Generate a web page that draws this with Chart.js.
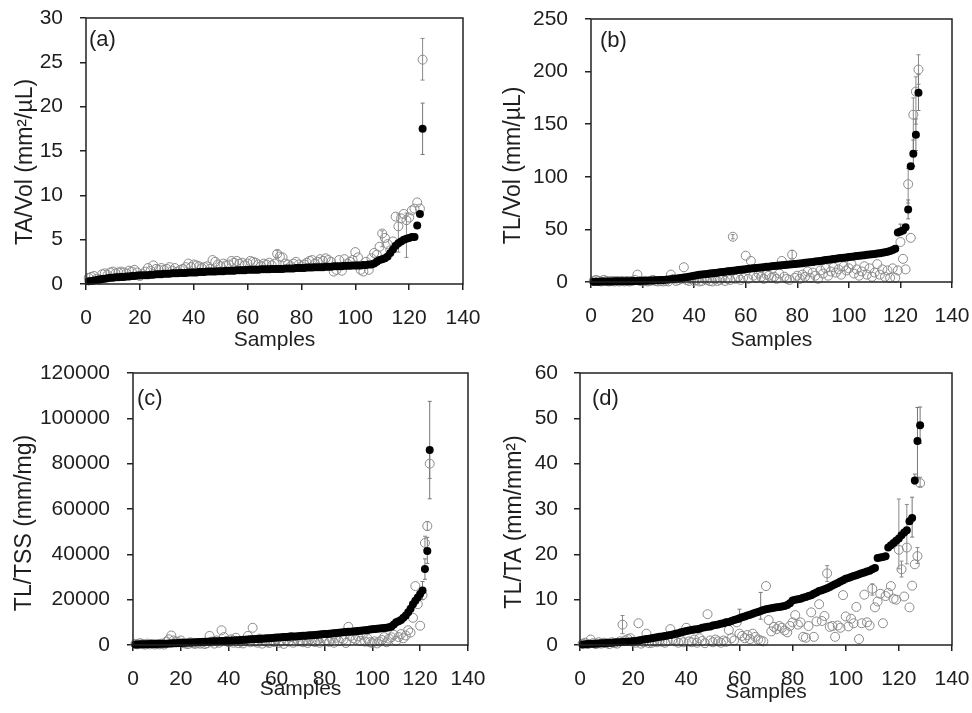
<!DOCTYPE html>
<html><head><meta charset="utf-8">
<script src="https://cdn.jsdelivr.net/npm/chart.js@4"></script>
<style>
html,body{margin:0;padding:0;background:#fff;}
#wrap{position:relative;width:972px;height:713px;overflow:hidden;}
canvas{position:absolute;}
</style></head><body>
<div id="wrap">
<canvas id="ca" width="486" height="356" style="left:0;top:0"></canvas>
<canvas id="cb" width="486" height="356" style="left:486px;top:0"></canvas>
<canvas id="cc" width="486" height="357" style="left:0;top:356px"></canvas>
<canvas id="cd" width="486" height="357" style="left:486px;top:356px"></canvas>
</div>
<script>
const xTicks = [0,20,40,60,80,100,120,140];
const panelLabels = ['(a)','(b)','(c)','(d)'];
const yTitles = ['TA/Vol (mm²/µL)','TL/Vol (mm/µL)','TL/TSS (mm/mg)','TL/TA (mm/mm²)'];
const xTitle = 'Samples';
const yMax = [30,250,120000,60];
const yStep = [5,50,20000,10];

// (a) TA/Vol
const aBlack = [
0.30,0.35,0.40,0.45,0.50,0.55,0.60,0.65,0.70,0.70,
0.75,0.75,0.80,0.80,0.85,0.85,0.90,0.90,0.95,0.95,
1.00,1.00,1.00,1.05,1.05,1.10,1.10,1.10,1.15,1.15,
1.15,1.20,1.20,1.20,1.25,1.25,1.25,1.30,1.30,1.30,
1.30,1.35,1.35,1.35,1.40,1.40,1.40,1.40,1.45,1.45,
1.45,1.50,1.50,1.50,1.50,1.55,1.55,1.55,1.55,1.60,
1.60,1.60,1.60,1.60,1.65,1.65,1.65,1.65,1.70,1.70,
1.70,1.70,1.70,1.75,1.75,1.75,1.75,1.80,1.80,1.80,
1.80,1.85,1.85,1.85,1.90,1.90,1.90,1.90,1.95,1.95,
1.95,2.00,2.00,2.00,2.00,2.05,2.05,2.05,2.10,2.10,
2.10,2.10,2.15,2.15,2.20,2.20,2.30,2.50,2.70,2.80,
2.90,3.10,3.50,3.90,4.30,4.60,4.80,5.00,5.10,5.20,
5.30,5.30,6.60,7.90,17.50];
const aOpen = [
0.7,0.8,0.9,0.6,0.5,1.1,1.2,1.0,1.3,1.4,
1.2,1.3,1.4,1.3,1.2,1.5,1.4,1.6,1.3,0.9,
1.1,1.4,1.8,1.5,2.1,1.7,1.6,1.8,1.6,1.7,
1.9,1.5,1.8,1.4,1.6,1.7,1.9,2.3,1.9,2.2,
2.1,2.0,1.8,1.9,2.0,1.7,2.7,2.5,2.2,2.0,
2.3,2.1,2.2,2.6,2.4,2.6,2.3,2.4,2.1,2.3,
2.6,2.5,2.4,2.2,2.0,2.3,2.2,2.4,2.1,2.3,
3.4,3.1,3.0,2.3,2.2,2.0,2.3,2.5,2.2,2.0,
2.2,2.4,2.6,2.7,2.3,2.5,2.8,2.6,2.9,2.7,
2.5,1.4,1.6,2.7,1.5,2.8,2.3,2.5,2.7,3.6,
3.0,1.6,1.4,2.5,1.6,2.9,3.5,3.3,4.2,5.7,
5.2,4.5,3.8,4.8,7.6,6.5,7.4,7.9,7.2,7.5,
8.3,8.5,9.2,8.5,25.3];
const aBlackErr = [[125,14.6,20.4]];
const aOpenErr = [[125,23.0,27.7],[116,3.6,7.9],[119,3.0,8.0],[110,4.2,6.0],[71,3.0,3.8]];

// (b) TL/Vol
const bBlack = [
0.2,0.3,0.3,0.4,0.4,0.5,0.5,0.5,0.6,0.6,
0.6,0.7,0.7,0.8,0.8,0.9,0.9,1.0,1.0,1.1,
1.2,1.3,1.4,1.5,1.6,1.7,1.9,2.0,2.2,2.4,
2.6,2.9,3.2,3.5,3.8,4.2,4.6,5.0,5.5,6.0,
6.4,6.8,7.1,7.4,7.7,8.0,8.3,8.6,8.9,9.2,
9.5,9.8,10.1,10.4,10.7,11.0,11.3,11.6,11.9,12.2,
12.5,12.8,13.1,13.3,13.6,13.9,14.1,14.4,14.6,14.9,
15.1,15.4,15.6,15.9,16.1,16.4,16.6,16.9,17.1,17.4,
17.6,17.9,18.2,18.5,18.8,19.1,19.4,19.7,20.0,20.4,
20.8,21.2,21.5,21.9,22.2,22.5,22.8,23.1,23.4,23.7,
24.0,24.3,24.6,24.9,25.2,25.5,25.8,26.1,26.4,26.7,
27.0,27.4,27.8,28.3,28.8,29.5,30.5,31.5,47,48,
49,52,69,110,122,140,180];
const bOpen = [
1,2,1,0.5,2,1,0.5,1,0.5,1,
0.5,1,0.5,1,0.5,1,2,7,1,0.5,
1,0.5,1,2,1,0.5,1,0.5,1,0.5,
7,3,1,2,3,14,2,1,3,1,
2,0.5,1,3,2,1,0.5,3,1,2,
4,1,3,2,43,3,5,2,4,25,
3,20,6,4,8,5,3,7,6,4,
5,3,8,20,5,3,2,26,4,6,
3,7,5,10,4,9,6,3,11,8,
13,6,10,14,9,12,7,15,11,13,
17,8,12,6,10,15,7,13,5,9,
17,7,12,5,11,4,13,4,11,38,
22,12,93,42,159,181,202];
const bBlackErr = [[127,163,197],[126,125,155],[125,110,135],[123,60,78],[120,45,55]];
const bOpenErr = [[127,188,216],[126,150,195],[125,125,175],[123,75,108],[78,22,30],[55,41,45]];

// (c) TL/TSS
const cBlack = [
200,250,300,300,350,350,400,400,450,450,
500,500,550,600,650,700,750,800,850,900,
950,1000,1050,1100,1150,1200,1250,1300,1350,1400,
1450,1500,1550,1600,1650,1700,1750,1800,1850,1900,
1950,2000,2100,2150,2200,2300,2350,2400,2500,2550,
2600,2700,2750,2800,2900,2950,3000,3100,3200,3300,
3350,3400,3500,3550,3600,3700,3750,3800,3900,4000,
4050,4100,4200,4250,4350,4400,4500,4600,4700,4800,
4900,5000,5100,5200,5300,5400,5500,5600,5700,5800,
5900,6000,6100,6200,6300,6400,6500,6600,6800,7000,
7100,7200,7300,7400,7500,7600,7800,8200,9000,10000,
10500,11000,12000,13000,14500,16000,18000,19500,21000,22500,
24000,33500,41500,86000];
const cOpen = [
500,300,800,400,200,600,300,500,200,400,
300,600,200,1500,2500,4200,2000,1500,1200,2000,
800,600,400,1200,700,500,900,600,1000,400,
800,4000,1500,600,2000,1000,6500,3500,1800,1200,
2500,1000,3200,800,1500,700,1800,4000,1200,7600,
1500,1000,2800,600,1800,1200,900,2000,1300,2500,
1000,1800,500,2200,1500,3500,1000,2800,1600,2000,
1200,2400,900,2600,1800,1300,2200,1000,3000,1600,
2000,1400,2800,1000,3200,1800,3000,2400,900,8000,
4000,3000,2500,3800,1800,4500,1500,2800,1200,900,
1600,700,1500,2200,3500,1200,2800,3400,4500,1800,
3500,4800,3000,4200,6500,5500,12000,26000,18000,8500,
22000,45000,52500,80000];
const cBlackErr = [[124,64500,107500],[123,36000,47500],[122,29000,38000],[121,20000,28000]];
const cOpenErr = [[124,73500,86500],[123,50500,54500],[122,42000,48000]];

// (d) TL/TA
const dBlack = [
0.1,0.15,0.2,0.25,0.3,0.3,0.35,0.4,0.4,0.45,
0.5,0.5,0.55,0.6,0.6,0.65,0.7,0.7,0.75,0.8,
0.9,1.0,1.1,1.2,1.3,1.4,1.5,1.6,1.7,1.8,
1.9,2.0,2.1,2.2,2.3,2.5,2.6,2.8,2.9,3.1,
3.2,3.3,3.4,3.5,3.6,3.8,3.9,4.0,4.1,4.3,
4.4,4.5,4.7,4.8,5.0,5.1,5.3,5.5,5.7,5.9,
6.1,6.3,6.5,6.7,6.9,7.1,7.3,7.5,7.7,7.9,
8.0,8.1,8.2,8.3,8.4,8.5,8.6,8.8,9.2,9.8,
10.0,10.1,10.2,10.4,10.6,10.8,11.0,11.3,11.6,11.9,
12.1,12.3,12.5,12.8,13.1,13.4,13.7,14.0,14.3,14.6,
14.8,15.0,15.2,15.4,15.6,15.8,16.0,16.2,16.4,16.7,
17.0,19.2,19.3,19.4,19.6,21.5,22.0,22.5,23.0,23.5,
24.2,24.8,25.3,27.3,28.0,36.3,45.0,48.5];
const dOpen = [
0.3,0.5,0.2,1.2,0.4,0.2,0.6,0.3,0.5,0.4,
0.2,0.6,0.4,0.3,0.8,4.5,1.0,1.3,1.5,0.7,
0.5,4.8,0.3,0.6,2.5,0.4,0.5,0.8,0.6,1.0,
0.7,0.5,0.9,3.5,1.2,0.8,0.5,1.0,0.6,3.8,
0.8,0.6,1.2,0.5,1.5,0.9,0.4,6.8,1.0,0.6,
1.2,0.8,0.5,1.0,0.7,3.3,1.5,1.0,5.0,2.5,
2.0,1.5,2.2,1.3,2.5,1.8,1.2,1.0,0.8,13.0,
5.5,3.0,4.0,3.5,4.2,3.8,3.2,2.8,4.2,5.0,
6.6,4.5,5.0,1.8,1.6,4.2,7.2,1.8,5.2,9.0,
5.3,6.4,15.8,4.0,4.2,1.8,4.3,3.8,11.0,6.3,
4.1,5.8,4.8,8.4,1.3,4.8,11.1,5.0,4.3,12.4,
8.3,9.6,11.3,4.8,10.8,11.5,13.0,10.2,10.0,21.0,
16.7,10.7,21.5,8.3,13.1,17.8,19.6,35.7];
const dBlackErr = [[128,44.5,52.5],[127,37,52.4],[126,35.5,37.7],[125,23.8,32.6],[68,5.7,11.6],[60,5.0,7.9]];
const dOpenErr = [[128,35,37],[127,18,21.5],[123,17.9,31],[120,16.8,32.2],[121,15,18.5],[93,14,17.5],[16,2.5,6.5],[110,11,13.5]];

const FONT = "'Liberation Sans', Arial, sans-serif";
const TXT = '#1e1e1e';

function errPlugin(sets){
  return {
    id:'errbars',
    beforeDatasetsDraw(chart){
      const xs = chart.scales.x, ys = chart.scales.y, ctx = chart.ctx;
      ctx.save();
      ctx.lineWidth = 1;
      sets.forEach(set => {
        ctx.strokeStyle = set.color;
        set.list.forEach(([s, lo, hi]) => {
          const px = xs.getPixelForValue(s);
          const y1 = ys.getPixelForValue(lo), y2 = ys.getPixelForValue(hi);
          ctx.beginPath();
          ctx.moveTo(px, y1); ctx.lineTo(px, y2);
          ctx.moveTo(px-2, y1); ctx.lineTo(px+2, y1);
          ctx.moveTo(px-2, y2); ctx.lineTo(px+2, y2);
          ctx.stroke();
        });
      });
      ctx.restore();
    }
  };
}
function framePlugin(label, yTitle, g){
  return {
    id:'frame',
    afterDatasetsDraw(chart){
      const a = chart.chartArea, ctx = chart.ctx;
      ctx.save();
      ctx.strokeStyle = '#222';
      ctx.lineWidth = 1.5;
      ctx.strokeRect(a.left, a.top, a.right - a.left, a.bottom - a.top);
      ctx.fillStyle = TXT;
      ctx.font = '22px ' + FONT;
      ctx.textBaseline = 'middle';
      ctx.textAlign = 'left';
      ctx.fillText(label, a.left + g.lx, a.top + g.ly);
      // y axis title
      ctx.font = '23px ' + FONT;
      ctx.textAlign = 'center';
      ctx.translate(g.tx, (a.top + a.bottom) / 2 + g.ty);
      ctx.rotate(-Math.PI / 2);
      ctx.fillText(yTitle, 0, 0);
      ctx.restore();
    }
  };
}

function panel(id, i, black, open, blackErr, openErr, geo){
  const toPts = arr => arr.map((v, k) => ({x: k + 1, y: v}));
  return new Chart(document.getElementById(id), {
    type: 'scatter',
    data: {datasets: [
      {data: toPts(black), pointRadius: 4, pointBackgroundColor: '#000', pointBorderColor: '#000', pointBorderWidth: 0, order: 0, clip: false},
      {data: toPts(open), pointRadius: 4.5, pointBackgroundColor: 'rgba(0,0,0,0)', pointBorderColor: '#8a8a8a', pointBorderWidth: 1, order: 1, clip: false}
    ]},
    options: {
      responsive: false, animation: false, devicePixelRatio: 1,
      layout: {padding: {left: 0, right: geo.pr, top: geo.pt, bottom: 0}},
      plugins: {legend: {display: false}, tooltip: {enabled: false}},
      scales: {
        x: {
          type: 'linear', min: 0, max: 140,
          afterBuildTicks: s => { s.ticks = xTicks.map(v => ({value: v})); },
          ticks: {color: TXT, font: {size: 21, family: FONT}, padding: geo.xp, maxRotation: 0, autoSkip: false},
          grid: {drawOnChartArea: false, drawTicks: true, tickLength: 6, color: '#222', lineWidth: 1.5},
          border: {display: false},
          title: {display: true, text: xTitle, color: TXT, font: {size: 21, family: FONT}, padding: {top: 0, bottom: geo.xtb}},
          afterFit: s => { s.height = geo.xh; s.paddingLeft = 0; s.paddingRight = 0; }
        },
        y: {
          type: 'linear', min: 0, max: yMax[i],
          ticks: {stepSize: yStep[i], color: TXT, font: {size: 21, family: FONT}, padding: geo.yp, autoSkip: false, callback: v => String(v)},
          grid: {drawOnChartArea: false, drawTicks: true, tickLength: 6, color: '#222', lineWidth: 1.5},
          border: {display: false},
          title: {display: false},
          afterFit: s => { s.width = geo.yw; s.paddingTop = 0; s.paddingBottom = 0; }
        }
      }
    },
    plugins: [
      errPlugin([{color: '#8a8a8a', list: openErr}, {color: '#777', list: blackErr}]),
      framePlugin(panelLabels[i], yTitles[i], geo)
    ]
  });
}

panel('ca', 0, aBlack, aOpen, aBlackErr, aOpenErr, {pr: 23, pt: 18, yw: 86, xh: 72, xtb: 3, xp: 16, yp: 17, lx: 3, ly: 22, tx: 26, ty: 11});
panel('cb', 1, bBlack, bOpen, bBlackErr, bOpenErr, {pr: 20, pt: 19, yw: 105, xh: 74, xtb: 3, xp: 16, yp: 17, lx: 9, ly: 22, tx: 28, ty: 15});
panel('cc', 2, cBlack, cOpen, cBlackErr, cOpenErr, {pr: 18, pt: 17, yw: 133, xh: 68, xtb: 11, xp: 16, yp: 17, lx: 4, ly: 26, tx: 25, ty: 14});
panel('cd', 3, dBlack, dOpen, dBlackErr, dOpenErr, {pr: 20, pt: 17, yw: 94, xh: 68, xtb: 8, xp: 16, yp: 16, lx: 12, ly: 26, tx: 29, ty: 13});
</script>
</body></html>
